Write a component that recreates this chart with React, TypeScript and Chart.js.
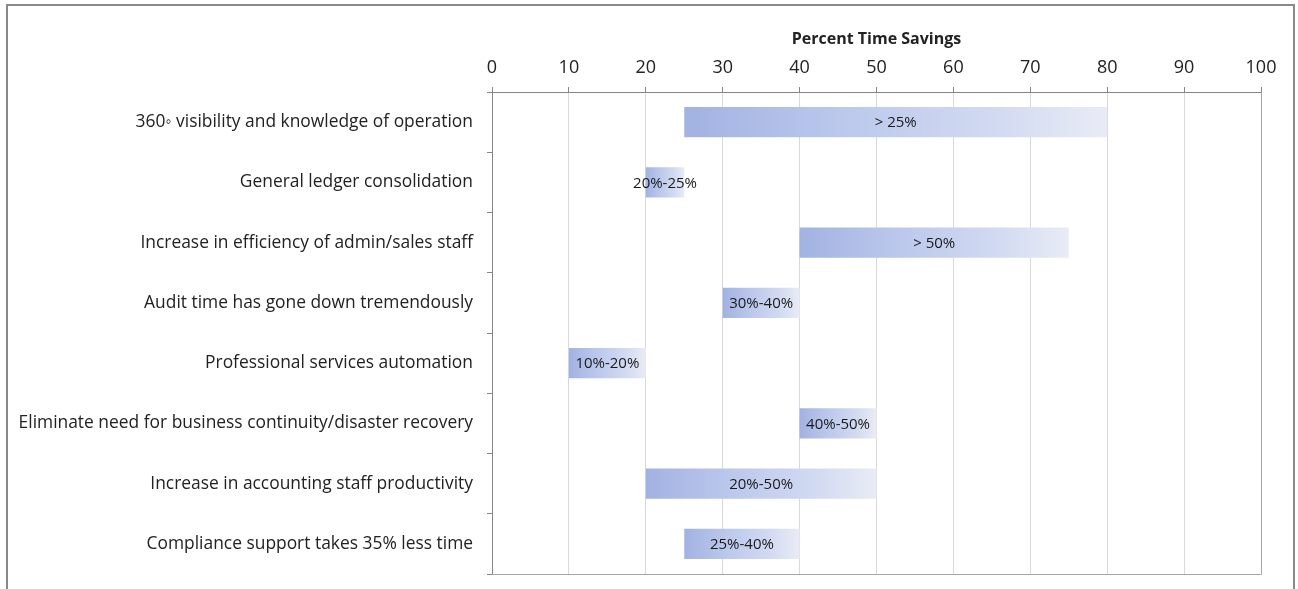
import React, { useEffect, useRef } from "react";
import { Chart, registerables } from "chart.js";

Chart.register(...registerables);

const categories = [
  "360\u25E6 visibility and knowledge of operation",
  "General ledger consolidation",
  "Increase in efficiency of admin/sales staff",
  "Audit time has gone down tremendously",
  "Professional services automation",
  "Eliminate need for business continuity/disaster recovery",
  "Increase in accounting staff productivity",
  "Compliance support takes 35% less time",
];
const startValues = [25, 20, 40, 30, 10, 40, 20, 25];
const endValues = [80, 25, 75, 40, 20, 50, 50, 40];
const barLabels = ["> 25%", "20%-25%", "> 50%", "30%-40%", "10%-20%", "40%-50%", "20%-50%", "25%-40%"];
const xMin = 0;
const xMax = 100;
const xStep = 10;
const axisTitle = "Percent Time Savings";

const FONT = "'Open Sans', 'Noto Sans', sans-serif";

export default function App() {
  const canvasRef = useRef<HTMLCanvasElement | null>(null);

  useEffect(() => {
    const canvas = canvasRef.current;
    if (!canvas) return;

    const barLabelPlugin = {
      id: "barLabels",
      afterDatasetsDraw(chart: any) {
        const ctx = chart.ctx;
        const meta = chart.getDatasetMeta(0);
        ctx.save();
        ctx.font = `15px ${FONT}`;
        ctx.fillStyle = "#1a1a1a";
        ctx.textAlign = "center";
        ctx.textBaseline = "middle";
        meta.data.forEach((el: any, i: number) => {
          const cx = (el.x + el.base) / 2;
          ctx.fillText(barLabels[i], cx, el.y + 1);
        });
        ctx.restore();
      },
    };

    const plotBorderPlugin = {
      id: "plotBorder",
      afterDatasetsDraw(chart: any) {
        const { left, right, top, bottom } = chart.chartArea;
        const ctx = chart.ctx;
        ctx.save();
        ctx.strokeStyle = "#a6a6a6";
        ctx.lineWidth = 1;
        ctx.beginPath();
        ctx.moveTo(Math.round(right) + 0.5, top);
        ctx.lineTo(Math.round(right) + 0.5, Math.round(bottom) + 0.5);
        ctx.lineTo(left, Math.round(bottom) + 0.5);
        ctx.stroke();
        ctx.restore();
      },
    };

    const chart = new Chart(canvas, {
      type: "bar",
      data: {
        labels: categories,
        datasets: [
          {
            data: startValues.map((s, i) => [s, endValues[i]]),
            backgroundColor: (c: any) => {
              const ch = c.chart;
              const i = c.dataIndex;
              const xs = ch.scales && ch.scales.x;
              if (i === undefined || !xs || !ch.chartArea) return "#c3cff0";
              const x0 = xs.getPixelForValue(startValues[i]);
              const x1 = xs.getPixelForValue(endValues[i]);
              const g = ch.ctx.createLinearGradient(x0, 0, x1, 0);
              g.addColorStop(0, "rgb(162,178,225)");
              g.addColorStop(0.35, "rgb(186,199,236)");
              g.addColorStop(0.75, "rgb(211,219,242)");
              g.addColorStop(1, "rgb(233,236,246)");
              return g;
            },
            borderWidth: 0,
            categoryPercentage: 1,
            barPercentage: 0.5,
          },
        ],
      },
      options: {
        indexAxis: "y",
        responsive: false,
        animation: false,
        maintainAspectRatio: false,
        layout: { padding: { left: 0, right: 37, top: 0, bottom: 15 } },
        plugins: {
          legend: { display: false },
          tooltip: { enabled: false },
        },
        scales: {
          x: {
            position: "top",
            min: xMin,
            max: xMax,
            ticks: {
              stepSize: xStep,
              color: "#222",
              font: { family: FONT, size: 18 },
              padding: 8,
            },
            grid: {
              color: "#d9d9d9",
              tickColor: "#868686",
              tickLength: 5,
            },
            border: { display: true, color: "#868686" },
            title: {
              display: true,
              text: axisTitle,
              color: "#222",
              font: { family: FONT, size: 16, weight: "bold" },
              padding: { top: 30, bottom: 0 },
            },
            afterFit: (s: any) => {
              s.height = 92;
            },
          },
          y: {
            ticks: {
              color: "#222",
              font: { family: FONT, size: 17.4 },
              padding: 14,
            },
            grid: {
              drawOnChartArea: false,
              drawTicks: true,
              tickLength: 5,
              tickColor: "#868686",
              offset: true,
            },
            border: { display: true, color: "#868686" },
            afterFit: (s: any) => {
              s.width = 492;
              s.paddingTop = 0;
              s.paddingBottom = 0;
            },
          },
        },
      },
      plugins: [barLabelPlugin, plotBorderPlugin],
    } as any);

    return () => chart.destroy();
  }, []);

  return (
    <div style={{ position: "fixed", left: 0, top: 0, width: 1298, height: 589, background: "#fff" }}>
      <div
        style={{
          position: "absolute",
          left: 6,
          top: 4,
          width: 1289,
          height: 600,
          border: "2px solid #8a8a8a",
          boxSizing: "border-box",
        }}
      />
      <canvas ref={canvasRef} width={1298} height={589} style={{ position: "absolute", left: 0, top: 0 }} />
    </div>
  );
}
